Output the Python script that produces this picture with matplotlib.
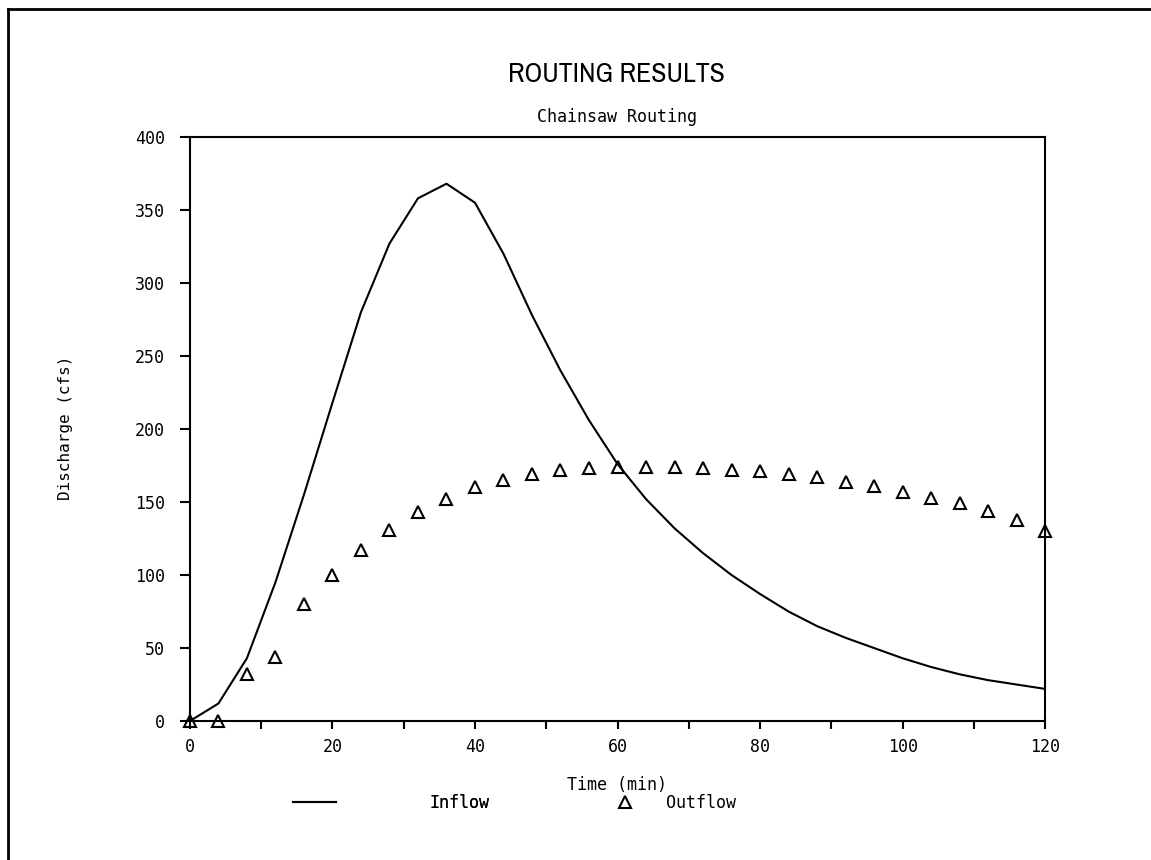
import matplotlib
matplotlib.use("Agg")
import matplotlib.pyplot as plt
from matplotlib.lines import Line2D
from matplotlib.ticker import MultipleLocator

# Routing hydrograph, 4-minute steps
time_min = [0, 4, 8, 12, 16, 20, 24, 28, 32, 36, 40, 44, 48, 52, 56, 60,
            64, 68, 72, 76, 80, 84, 88, 92, 96, 100, 104, 108, 112, 116, 120]
inflow = [0, 12, 43, 95, 155, 218, 280, 327, 358, 368, 355, 320, 278, 240, 206, 176,
          152, 132, 115, 100, 87, 75, 65, 57, 50, 43, 37, 32, 28, 25, 22]
outflow = [0, 0, 32, 44, 80, 100, 117, 131, 143, 152, 160, 165, 169, 172, 173, 174,
           174, 174, 173, 172, 171, 169, 167, 164, 161, 157, 153, 149, 144, 138, 130]

title = "ROUTING RESULTS"
subtitle = "Chainsaw Routing"
xlabel = "Time (min)"
ylabel = "Discharge (cfs)"

plt.rcParams['font.family'] = ['DejaVu Sans Mono']

fig = plt.figure(figsize=(11.51, 8.6), dpi=100)
ax = fig.add_axes([0.165, 0.1616, 0.743, 0.6791])

inflow_line, = ax.plot(time_min, inflow, color='black', lw=1.5, label='Inflow')
outflow_pts, = ax.plot(time_min, outflow, ls='none', marker='^', ms=9, mfc='none',
                       mec='black', mew=1.5, label='Outflow', clip_on=False)

ax.set_xlim(0, 120)
ax.set_ylim(0, 400)
ax.xaxis.set_major_locator(MultipleLocator(20))
ax.xaxis.set_minor_locator(MultipleLocator(10))
ax.yaxis.set_major_locator(MultipleLocator(50))
ax.tick_params(axis='x', which='both', direction='out', length=6, width=1.5, pad=6, labelsize=12)
ax.tick_params(axis='y', direction='out', length=7, width=1.5, pad=11, labelsize=12)
for s in ax.spines.values():
    s.set_linewidth(1.5)

# titles (narrow face for the big title, mono as fallback)
fig.text(0.536, 0.913, title, ha='center', va='center', fontsize=20,
         family=['Archivo Narrow', 'DejaVu Sans Mono'], fontweight='light')
fig.text(0.536, 0.864, subtitle, ha='center', va='center', fontsize=12)
fig.text(0.536, 0.087, xlabel, ha='center', va='center', fontsize=12)
fig.text(0.0565, 0.502, ylabel, ha='center', va='center', rotation=90, fontsize=11.5)

leg1 = fig.legend(handles=[inflow_line], loc='center left', bbox_to_anchor=(0.2546, 0.066),
                  frameon=False, fontsize=12, handlelength=2.6, handletextpad=5.6,
                  borderpad=0, borderaxespad=0)
fig.add_artist(leg1)
fig.legend(handles=[outflow_pts], loc='center left', bbox_to_anchor=(0.524, 0.066),
           frameon=False, fontsize=12, handlelength=2.6, handletextpad=1.2,
           borderpad=0, borderaxespad=0)

# page border (left and top edges)
fig.add_artist(Line2D([0.007, 0.007], [0, 0.99], transform=fig.transFigure, color='black', lw=2))
fig.add_artist(Line2D([0.007, 1], [0.99, 0.99], transform=fig.transFigure, color='black', lw=2))

fig.savefig("out.png", dpi=100)
